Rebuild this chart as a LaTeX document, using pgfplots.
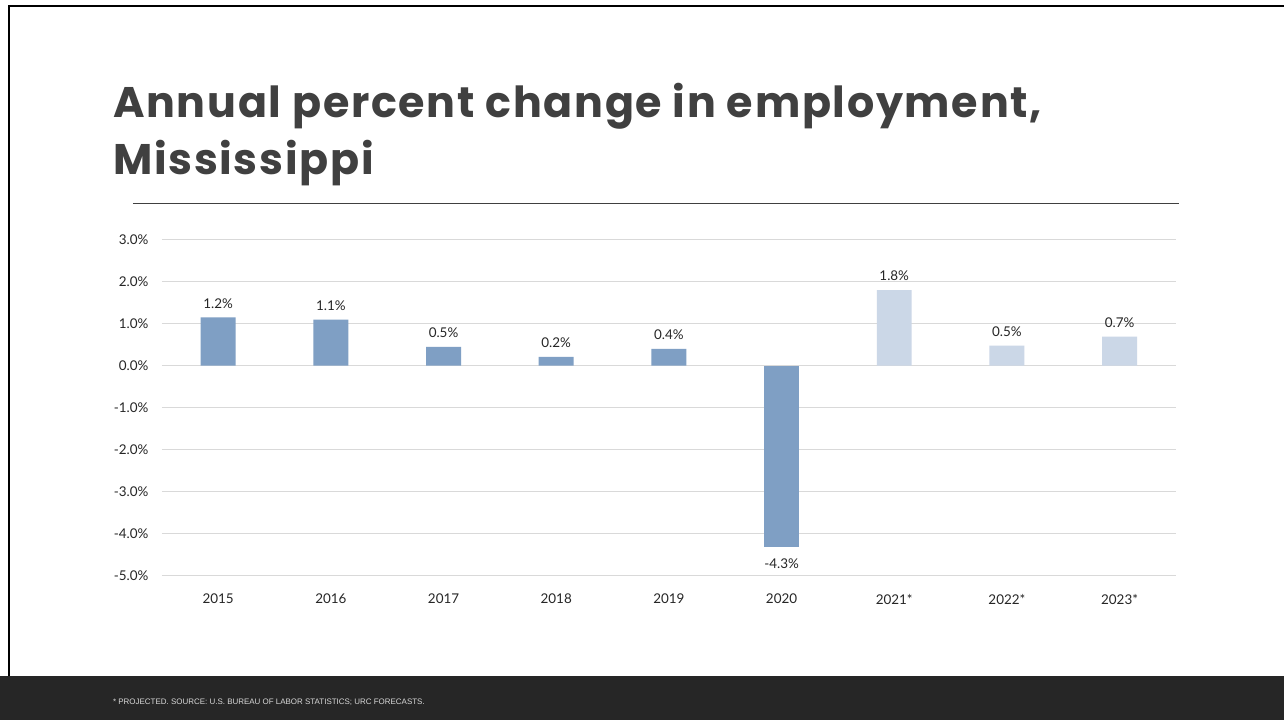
\documentclass[border=0pt]{standalone}
\usepackage{pgfplots}
\pgfplotsset{compat=1.18}
\usepackage{pgfplotstable}
\usepackage{fontspec}
\setmainfont{Lato}
\newfontfamily\footfont{Liberation Sans}
\newfontfamily\titlefont[LetterSpace=4]{Poppins}
\definecolor{bardark}{HTML}{7F9FC4}
\definecolor{barlight}{HTML}{CBD7E7}
\definecolor{titlegray}{HTML}{404040}
\definecolor{gridgray}{HTML}{D9D9D9}
\definecolor{footbg}{HTML}{262626}
\definecolor{txt}{HTML}{262626}

\pgfplotstableread{
x y label
0 1.15 1.2
1 1.10 1.1
2 0.45 0.5
3 0.21 0.2
4 0.40 0.4
}\actual
\pgfplotstableread{
x y label
5 -4.32 -4.3
}\actualneg
\pgfplotstableread{
x y label
6 1.80 1.8
7 0.48 0.5
8 0.69 0.7
}\projected

\begin{document}
\begin{tikzpicture}[x=1bp,y=1bp]
\fill[white] (0,0) rectangle (1285,721);
\fill[footbg] (0,0) rectangle (1285,44);
\draw[black,line width=2.2bp] (9,44) -- (9,715) -- (1285,715);
\node[anchor=base west,inner sep=0pt,text=titlegray,font=\titlefont\fontsize{43}{48}\bfseries\selectfont] at (113,603) {Annual percent change in employment,};
\node[anchor=base west,inner sep=0pt,text=titlegray,font=\titlefont\fontsize{43}{48}\bfseries\selectfont] at (113,546) {Mississippi};
\draw[titlegray,line width=1.2bp] (133,517) -- (1180,517);
\node[anchor=west,inner sep=0pt,text=white!85!black,font=\footfont\fontsize{8}{10}\selectfont] at (113,18) {* PROJECTED. SOURCE: U.S. BUREAU OF LABOR STATISTICS; URC FORECASTS.};
\begin{axis}[
  at={(162bp,145bp)}, anchor=south west,
  width=1015bp, height=336bp, scale only axis,
  xmin=-0.5, xmax=8.5, ymin=-5, ymax=3,
  axis line style={draw=none},
  tick style={draw=none},
  ymajorgrids, grid style={gridgray,line width=1.1bp},
  ytick={-5,-4,-3,-2,-1,0,1,2,3},
  yticklabels={-5.0\%,-4.0\%,-3.0\%,-2.0\%,-1.0\%,0.0\%,1.0\%,2.0\%,3.0\%},
  xtick={0,...,8},
  xticklabels={2015,2016,2017,2018,2019,2020,2021*,2022*,2023*},
  ticklabel style={font=\fontsize{13.5}{16}\selectfont,text=txt},
  yticklabel style={xshift=-10bp},
  xticklabel style={yshift=-11bp},
  ybar, bar width=35bp,
  clip=false,
  point meta=explicit symbolic,
  nodes near coords={\pgfplotspointmeta\%},
  every node near coord/.append style={font=\fontsize{13.5}{16}\selectfont,text=txt,inner sep=4bp},
]
\addplot[fill=bardark,draw=none,bar shift=0pt,nodes near coords style={anchor=south,yshift=5bp}] table[x=x,y=y,meta=label] {\actual};
\addplot[fill=bardark,draw=none,bar shift=0pt,nodes near coords style={anchor=north,yshift=-8bp}] table[x=x,y=y,meta=label] {\actualneg};
\addplot[fill=barlight,draw=none,bar shift=0pt,nodes near coords style={anchor=south,yshift=5bp}] table[x=x,y=y,meta=label] {\projected};
\end{axis}
\end{tikzpicture}
\end{document}
